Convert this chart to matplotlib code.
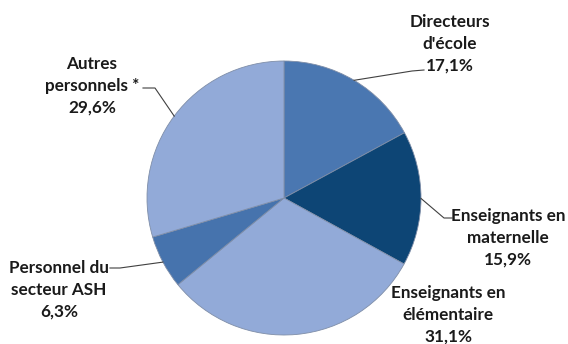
import numpy as np
from matplotlib import pyplot as plt

# data
categories = ["Directeurs\nd'école", "Enseignants en\nmaternelle", "Enseignants en\nélémentaire",
              "Personnel du\nsecteur ASH", "Autres\npersonnels *"]
shares = [17.1, 15.9, 31.1, 6.3, 29.6]
colors = ["#4a77b1", "#0d4575", "#92aad8", "#4673ad", "#92aad8"]

# layout, in pixels from the top-left corner of the picture
W, H = 568, 344
center = (284, 198)
radius = 137
label_xy = [(450, 44), (508, 238), (448, 315), (59, 290), (92, 86)]
leader_pts = [[(412, 71), (424, 70)],
              [(444, 218), (452, 218)],
              None,
              [(120, 268), (110, 268)],
              [(155, 88), (143, 88)]]

plt.rcParams["font.family"] = ["Lato", "DejaVu Sans"]

fig = plt.figure(figsize=(W / 100, H / 100), dpi=100)
ax = fig.add_axes([0, 0, 1, 1])


def flip(p):
    return p[0], H - p[1]


wedges, _ = ax.pie(shares, colors=colors, startangle=90, counterclock=False,
                   center=flip(center), radius=radius,
                   wedgeprops=dict(edgecolor="#7f8ea8", linewidth=0.6))

# pie() resets the limits, so set them afterwards
ax.set_xlim(0, W)
ax.set_ylim(0, H)
ax.set_aspect("equal")
ax.axis("off")

for wedge, name, value, xy, pts in zip(wedges, categories, shares, label_xy, leader_pts):
    text = name + "\n" + f"{value:.1f}".replace(".", ",") + "%"
    tx, ty = flip(xy)
    ax.text(tx, ty, text, ha="center", va="center", fontsize=12.3,
            fontweight="bold", color="#1a1a1a", linespacing=1.45)
    if pts is None:
        continue
    mid = np.deg2rad((wedge.theta1 + wedge.theta2) / 2)
    cx, cy = flip(center)
    xs = [cx + radius * np.cos(mid)] + [p[0] for p in pts]
    ys = [cy + radius * np.sin(mid)] + [H - p[1] for p in pts]
    ax.plot(xs, ys, color="#404040", linewidth=0.8)

fig.savefig("out.png", dpi=100)
